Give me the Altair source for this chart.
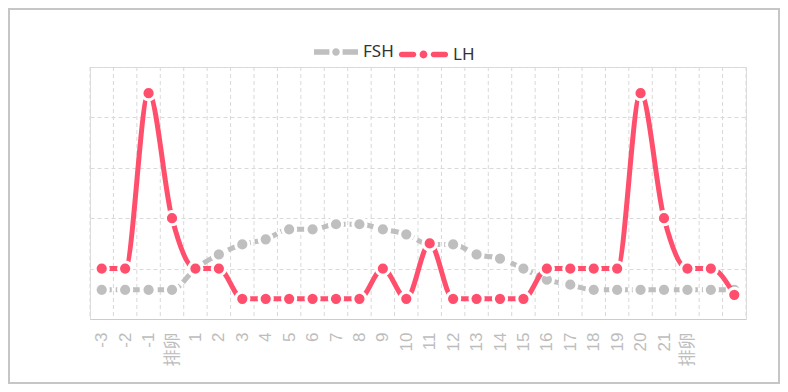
import altair as alt
import pandas as pd

labels = ["-3", "-2", "-1", "排卵"] + [str(i) for i in range(1, 22)] + ["排卵", "", ""]
fsh = [29, 29, 29, 29, 50, 64, 74, 79, 89, 89, 94, 94, 89, 84, 74, 74, 64, 60, 50, 39, 34, 29, 29, 29, 29, 29, 29, 29]
lh = [50, 50, 224, 100, 50, 50, 20, 20, 20, 20, 20, 20, 50, 20, 75, 20, 20, 20, 20, 50, 50, 50, 50, 224, 100, 50, 50, 24]
y_ticks = [0, 50, 100, 150, 200, 250]

GRAY = "#bfbfbf"
RED = "#ff4f6c"
GRID = "#d9d9d9"

n = len(labels)
rows = []
for i in range(n):
    rows.append({"idx": i, "series": "FSH", "value": fsh[i]})
    rows.append({"idx": i, "series": "LH", "value": lh[i]})
df = pd.DataFrame(rows)
gdf = pd.DataFrame({"gx": [i - 0.5 for i in range(n + 1)]})

label_expr = "[" + ",".join("'%s'" % l for l in labels) + "][datum.value]"
xscale = alt.Scale(domain=[-0.5, n - 0.5], nice=False, zero=False)
xaxis = alt.Axis(
    values=list(range(n)), labelExpr=label_expr, title=None, grid=False, ticks=False,
    domain=True, domainColor="#cccccc", domainWidth=1, labelAngle=270, labelAlign="right",
    labelBaseline="middle", labelPadding=13, labelFontSize=17, labelColor="#bdbdbd",
    labelFont="Liberation Sans, Noto Sans CJK SC", labelOverlap=False, labelFlush=False,
)
yscale = alt.Scale(domain=[0, 250], nice=False)
yaxis = alt.Axis(values=y_ticks, labels=False, ticks=False, domain=False, grid=True,
                 gridColor=GRID, gridDash=[4, 3], gridWidth=1, title=None)


def X(field):
    return alt.X(field, type="quantitative", scale=xscale, axis=xaxis)


def Y():
    return alt.Y("value:Q", scale=yscale, axis=yaxis)


fsh_path = ("M-1,-0.125H-0.3V0.125H-1Z M0.3,-0.125H1V0.125H0.3Z "
            "M-0.17,0A0.17,0.17 0 1 1 0.17,0A0.17,0.17 0 1 1 -0.17,0Z")
lh_path = ("M-0.89,-0.115H-0.41A0.115,0.115 0 0 1 -0.41,0.115H-0.89A0.115,0.115 0 0 1 -0.89,-0.115Z "
           "M0.41,-0.115H0.89A0.115,0.115 0 0 1 0.89,0.115H0.41A0.115,0.115 0 0 1 0.41,-0.115Z "
           "M-0.16,0A0.16,0.16 0 1 1 0.16,0A0.16,0.16 0 1 1 -0.16,0Z")


def legend(path, size, lx):
    return alt.Legend(title=None, orient="none", legendX=lx, legendY=-37, symbolType=path,
                      symbolSize=size, symbolStrokeWidth=0, labelFont="Noto Sans",
                      labelFontSize=17, labelColor="#333333", labelOffset=5, padding=0)


base = alt.Chart(df)

grid = alt.Chart(gdf).mark_rule(color=GRID, strokeDash=[4, 3], strokeWidth=1).encode(x=X("gx"))

fsh_line = base.transform_filter(alt.datum.series == "FSH").mark_line(
    color=GRAY, strokeWidth=5, strokeDash=[10, 4], interpolate="monotone"
).encode(x=X("idx"), y=Y())
fsh_pts = base.transform_filter(alt.datum.series == "FSH").mark_point(
    filled=True, size=175, stroke="white", strokeWidth=3, opacity=1
).encode(x=X("idx"), y=Y(), color=alt.Color(
    "series:N", scale=alt.Scale(domain=["FSH"], range=[GRAY]), legend=legend(fsh_path, 1936, 224)))

lh_line = base.transform_filter(alt.datum.series == "LH").mark_line(
    color=RED, strokeWidth=5, strokeCap="round", interpolate="monotone"
).encode(x=X("idx"), y=Y())
lh_pts = base.transform_filter(alt.datum.series == "LH").mark_point(
    filled=True, size=175, stroke="white", strokeWidth=3, opacity=1
).encode(x=X("idx"), y=Y(), color=alt.Color(
    "series:N", scale=alt.Scale(domain=["LH"], range=[RED]), legend=legend(lh_path, 2401, 309)))

border = alt.Chart(alt.Data(values=[{}])).mark_rect(
    fillOpacity=0, stroke="#c6c6c6", strokeWidth=2
).encode(x=alt.value(-81), x2=alt.value(689), y=alt.value(-58), y2=alt.value(316))

chart = alt.layer(border, grid, fsh_line, fsh_pts, lh_line, lh_pts).resolve_scale(
    color="independent"
).properties(
    width=656, height=252, autosize="none",
    padding={"left": 82, "top": 59, "right": 34, "bottom": 65},
).configure_view(stroke=None).configure(background="white")

chart.save("out.html", embed_options={"renderer": "svg", "actions": False})
